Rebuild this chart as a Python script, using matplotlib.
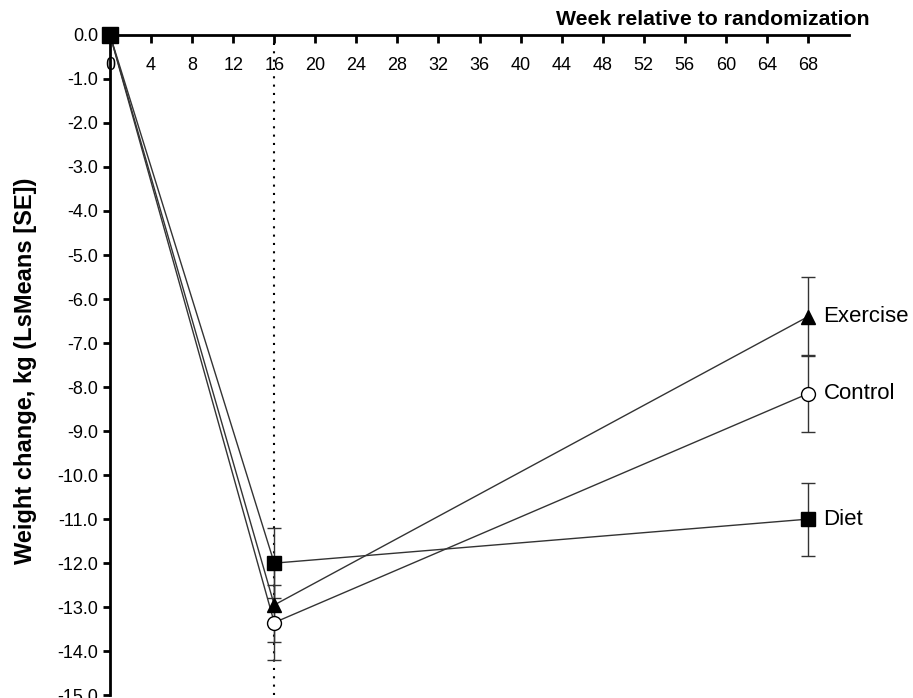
import numpy as np
import matplotlib
matplotlib.use('Agg')
import matplotlib.pyplot as plt

plt.rcParams['font.family'] = ['Liberation Sans', 'DejaVu Sans']

# %% Data (LsMeans and SE)
weeks = [0, 16, 68]
groups = ['Exercise', 'Control', 'Diet']
exercise_mean = [0.0, -12.95, -6.4]
exercise_se = [0.0, 0.85, 0.9]
control_mean = [0.0, -13.35, -8.15]
control_se = [0.0, 0.85, 0.88]
diet_mean = [0.0, -12.0, -11.0]
diet_se = [0.0, 0.8, 0.83]

x_ticks = list(range(0, 69, 4))
y_ticks = np.arange(0, -16, -1)

# %% Plot
fig = plt.figure(figsize=(9.13, 6.98), dpi=100)
ax = fig.add_axes([0.1205, 0.004, 0.8095, 0.946])

styles = {
    'Exercise': dict(marker='^', mfc='black', mec='black', ms=10),
    'Control': dict(marker='o', mfc='white', mec='black', ms=10),
    'Diet': dict(marker='s', mfc='black', mec='black', ms=10),
}
series = {
    'Exercise': (exercise_mean, exercise_se),
    'Control': (control_mean, control_se),
    'Diet': (diet_mean, diet_se),
}

ax.axvline(16, color='black', linestyle=(0, (1, 3)), linewidth=1.5, zorder=1)

for name in ['Diet', 'Control', 'Exercise']:
    m, se = series[name]
    ax.errorbar(weeks[1:], m[1:], yerr=se[1:], fmt='none', ecolor='#333333',
                elinewidth=1, capsize=5, capthick=1, zorder=2)
    ax.plot(weeks, m, color='#333333', linewidth=1, zorder=3)
    ax.plot(weeks[1:], m[1:], linestyle='none', zorder=4, clip_on=False, **styles[name])
    ax.text(weeks[-1] + 1.5, m[-1], name, fontsize=16, va='center', ha='left')

# start point (all groups at 0)
ax.plot([0], [0], marker='s', color='black', ms=11, zorder=5, clip_on=False)

ax.set_xlim(0, 72)
ax.set_ylim(-15, 0)

for s in ['right', 'bottom']:
    ax.spines[s].set_visible(False)
for s in ['top', 'left']:
    ax.spines[s].set_linewidth(2)

ax.xaxis.tick_top()
ax.set_xticks(x_ticks)
ax.set_xticklabels([str(t) for t in x_ticks])
ax.tick_params(axis='x', direction='in', length=6, width=2, pad=-28, labelsize=13)
ax.set_yticks(y_ticks)
ax.set_yticklabels([f'{t:.1f}' for t in y_ticks])
ax.tick_params(axis='y', direction='out', length=5, width=2, labelsize=13)

ax.set_ylabel('Weight change, kg (LsMeans [SE])', fontsize=17, fontweight='bold')
ax.yaxis.set_label_coords(-0.099, 0.492)
ax.text(1.028, 1.009, 'Week relative to randomization', transform=ax.transAxes,
        ha='right', va='bottom', fontsize=15.3, fontweight='bold')

fig.savefig('out.png', dpi=100)
